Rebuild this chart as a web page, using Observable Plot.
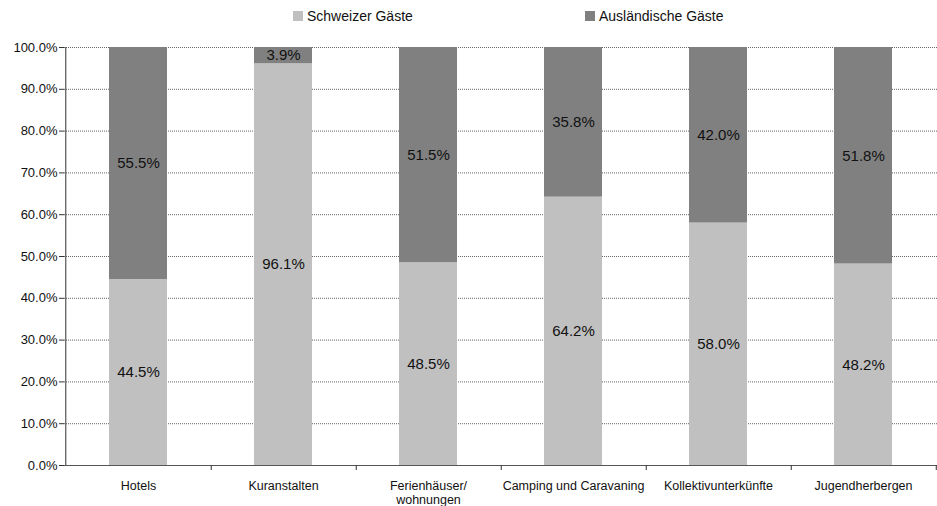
<!DOCTYPE html>
<html>
<head>
<meta charset="utf-8">
<script src="https://cdn.jsdelivr.net/npm/d3@7"></script>
<script src="https://cdn.jsdelivr.net/npm/@observablehq/plot@0.6"></script>
<style>
  body { margin: 0; background: #fff; font-family: "Liberation Sans", Arial, sans-serif; }
  #wrap { position: relative; width: 937px; height: 506px; }
  .leg { position: absolute; top: 8px; font-size: 14px; color: #111; display: flex; align-items: center; }
  .sw { width: 10px; height: 10px; display: inline-block; margin-right: 4px; }
</style>
</head>
<body>
<div id="wrap">
  <div id="chart"></div>
  <div class="leg" style="left:293px"><span class="sw" style="background:#c0c0c0"></span>Schweizer Gäste</div>
  <div class="leg" style="left:585px"><span class="sw" style="background:#808080"></span>Ausländische Gäste</div>
</div>
<script>
const categories = ["Hotels", "Kuranstalten", "Ferienhäuser/\nwohnungen", "Camping und Caravaning", "Kollektivunterkünfte", "Jugendherbergen"];
const series = ["Schweizer Gäste", "Ausländische Gäste"];
const schweizer = [44.5, 96.1, 48.5, 64.2, 58.0, 48.2];
const auslaendisch = [55.5, 3.9, 51.5, 35.8, 42.0, 51.8];
const yTicks = [0, 10, 20, 30, 40, 50, 60, 70, 80, 90, 100];
const colors = ["#c0c0c0", "#808080"];

const rows = [];
categories.forEach((c, i) => {
  rows.push({cat: c, series: series[0], value: schweizer[i]});
  rows.push({cat: c, series: series[1], value: auslaendisch[i]});
});

const W = 937, H = 506, ML = 64, MR = 0, MT = 47, MB = 41;
const step = (W - ML - MR) / categories.length;

const chart = Plot.plot({
  width: W,
  height: H,
  marginLeft: ML,
  marginRight: MR,
  marginTop: MT,
  marginBottom: MB,
  style: {fontFamily: "'Liberation Sans', Arial, sans-serif", color: "#111", background: "#fff"},
  x: {domain: categories, paddingInner: 0.6, paddingOuter: 0.3, label: null},
  y: {domain: [0, 100], label: null},
  color: {domain: series, range: colors},
  marks: [
    Plot.gridY(yTicks.filter(d => d > 0), {stroke: "#666", strokeOpacity: 1, strokeDasharray: "1,1", strokeWidth: 1}),
    Plot.barY(rows, {x: "cat", y: "value", fill: "series"}),
    Plot.text(rows, Plot.stackY({x: "cat", y: "value", z: "series", text: d => d.value.toFixed(1) + "%", fontSize: 15, fill: "#111"})),
    Plot.ruleY([0], {stroke: "#555", strokeWidth: 1.2}),
    Plot.ruleX([categories[0]], {dx: -step / 2, stroke: "#555", strokeWidth: 1.2}),
    Plot.ruleX(categories, {x: d => d, dx: step / 2, y1: 0, y2: 0, insetBottom: -5, stroke: "#333"}),
    Plot.axisY({ticks: yTicks, tickFormat: d => d.toFixed(1) + "%", tickSize: 5, tickPadding: 2, fontSize: 13, stroke: "#333", anchor: "left"}),
    Plot.axisX({tickSize: 0, tickPadding: 14, fontSize: 12.5, lineHeight: 1.15})
  ]
});
document.getElementById("chart").appendChild(chart);
</script>
</body>
</html>
